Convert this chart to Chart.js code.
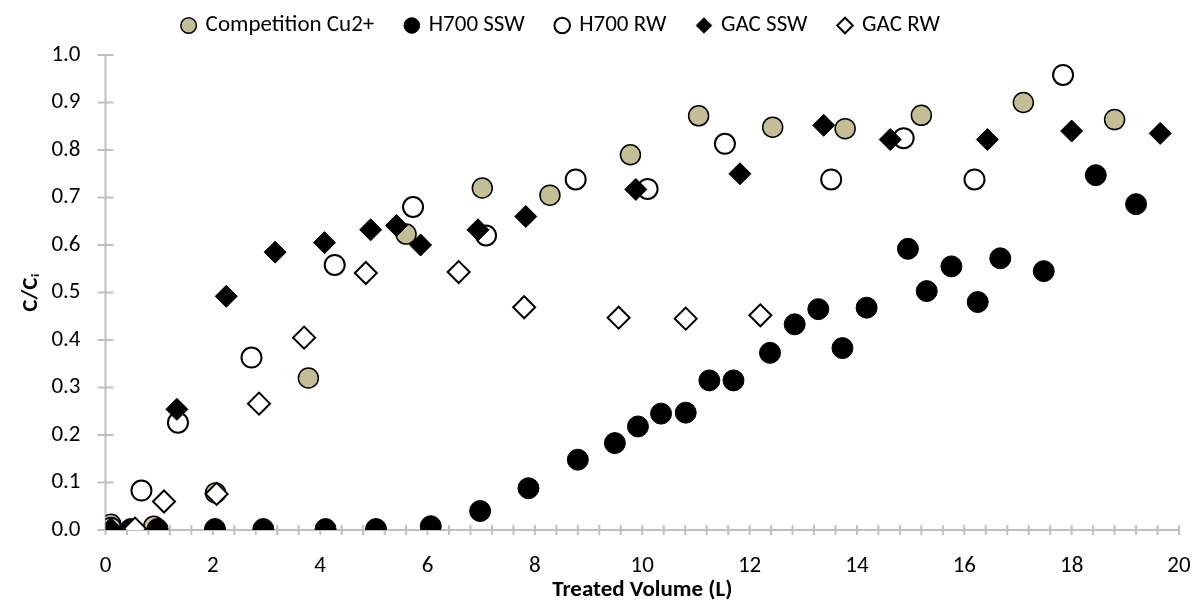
<!DOCTYPE html>
<html>
<head>
<meta charset="utf-8">
<script src="https://cdn.jsdelivr.net/npm/chart.js@4.4.0/dist/chart.umd.min.js"></script>
<style>
  html, body { margin: 0; padding: 0; background: #fff; overflow: hidden; }
  #wrap { width: 1196px; height: 604px; position: relative; }
  #myChart { display: block; }
</style>
</head>
<body>
<div id="wrap"><canvas id="myChart"></canvas></div>
<script>
// values
var compX = [0.1, 0.9, 2.05, 3.78, 5.6, 7.02, 8.28, 9.78, 11.05, 12.43, 13.78, 15.2, 17.1, 18.8];
var compY = [0.012, 0.008, 0.078, 0.32, 0.623, 0.72, 0.705, 0.79, 0.872, 0.848, 0.845, 0.873, 0.9, 0.864];

var h700sswX = [0.08, 0.47, 0.97, 2.04, 2.94, 4.1, 5.04, 6.06, 6.98, 7.88, 8.8, 9.49, 9.92, 10.35, 10.81, 11.25, 11.7, 12.38, 12.84, 13.28, 13.73, 14.18, 14.95, 15.3, 15.76, 16.25, 16.67, 17.48, 18.45, 19.2];
var h700sswY = [0.003, 0.002, 0.002, 0.002, 0.002, 0.002, 0.002, 0.008, 0.04, 0.088, 0.148, 0.183, 0.218, 0.245, 0.247, 0.315, 0.315, 0.373, 0.433, 0.465, 0.383, 0.468, 0.592, 0.503, 0.555, 0.48, 0.572, 0.545, 0.747, 0.686];

var h700rwX = [0.1, 0.67, 1.35, 2.72, 4.27, 5.73, 7.09, 8.76, 10.1, 11.54, 13.52, 14.87, 16.19, 17.84];
var h700rwY = [0.005, 0.083, 0.226, 0.363, 0.558, 0.68, 0.62, 0.738, 0.718, 0.813, 0.738, 0.825, 0.738, 0.958];

var gacsswX = [0.1, 1.33, 2.25, 3.16, 4.08, 4.94, 5.42, 5.87, 6.94, 7.83, 9.88, 11.82, 13.38, 14.62, 16.43, 18.0, 19.65];
var gacsswY = [0.003, 0.254, 0.492, 0.585, 0.605, 0.632, 0.641, 0.6, 0.632, 0.66, 0.717, 0.75, 0.852, 0.822, 0.822, 0.84, 0.835];

var gacrwX = [0.55, 1.09, 2.07, 2.86, 3.7, 4.85, 6.58, 7.8, 9.56, 10.81, 12.2];
var gacrwY = [0.003, 0.06, 0.076, 0.266, 0.405, 0.541, 0.543, 0.469, 0.447, 0.445, 0.452];

var seriesNames = ["Competition Cu2+", "H700 SSW", "H700 RW", "GAC SSW", "GAC RW"];

function pts(xs, ys) {
  return xs.map(function (x, i) { return { x: x, y: ys[i] }; });
}

var fontFam = "Carlito, Calibri, Lato, sans-serif";
var axisGrey = "#BFBFBF";

// excel style axes: grey lines with ticks crossing them
var crossAxes = {
  id: "crossAxes",
  beforeLayout(chart) {
    // a bit more room between legend and plot
    const lg = chart.legend;
    if (lg && !lg._extra) {
      const fit = lg.fit;
      lg.fit = function () { fit.call(this); this.height += 8; };
      lg._extra = true;
    }
  },
  afterLayout(chart) {
    // legend sits a little left of centre in the original
    const lg = chart.legend;
    if (lg) { lg.left -= 28; lg.right -= 28; }
  },
  beforeDatasetsDraw(chart) {
    const ctx = chart.ctx;
    const x = chart.scales.x, y = chart.scales.y;
    const x0 = x.getPixelForValue(x.min), x1 = x.getPixelForValue(x.max);
    const y0 = y.getPixelForValue(y.min), y1 = y.getPixelForValue(y.max);
    ctx.save();
    ctx.strokeStyle = axisGrey;
    ctx.lineWidth = 2;
    ctx.beginPath();
    ctx.moveTo(x0, y1);
    ctx.lineTo(x0, y0);
    ctx.lineTo(x1, y0);
    for (let i = 0; i <= 50; i++) {
      const px = x.getPixelForValue(i * 0.4);
      ctx.moveTo(px, y0 - 5);
      ctx.lineTo(px, y0 + 5);
    }
    for (let j = 0; j <= 10; j++) {
      const py = y.getPixelForValue(j / 10);
      ctx.moveTo(x0 - 8, py);
      ctx.lineTo(x0 + 8, py);
    }
    ctx.stroke();
    ctx.restore();
  }
};

new Chart("myChart", {
  type: "scatter",
  data: {
    datasets: [
      { label: seriesNames[0], data: pts(compX, compY), pointStyle: "circle", pointRadius: 10,
        backgroundColor: "#C4BD97", borderColor: "#000", borderWidth: 1.5, order: 5 },
      { label: seriesNames[1], data: pts(h700sswX, h700sswY), pointStyle: "circle", pointRadius: 10.5,
        backgroundColor: "#000", borderColor: "#000", borderWidth: 1, order: 4 },
      { label: seriesNames[2], data: pts(h700rwX, h700rwY), pointStyle: "circle", pointRadius: 10,
        backgroundColor: "#fff", borderColor: "#000", borderWidth: 2, order: 3 },
      { label: seriesNames[3], data: pts(gacsswX, gacsswY), pointStyle: "rectRot", pointRadius: 11,
        backgroundColor: "#000", borderColor: "#000", borderWidth: 1, order: 2 },
      { label: seriesNames[4], data: pts(gacrwX, gacrwY), pointStyle: "rectRot", pointRadius: 11,
        backgroundColor: "#fff", borderColor: "#000", borderWidth: 2, order: 1 }
    ]
  },
  options: {
    responsive: true,
    maintainAspectRatio: false,
    animation: false,
    layout: { padding: { left: 0, right: 17, top: -18, bottom: 0 } },
    plugins: {
      tooltip: { enabled: false },
      legend: {
        position: "top",
        labels: {
          usePointStyle: true,
          boxWidth: 11,
          boxHeight: 11,
          padding: 32,
          color: "#000",
          font: { family: fontFam, size: 23 },
          sort: function (a, b) { return a.datasetIndex - b.datasetIndex; }
        }
      }
    },
    scales: {
      x: {
        type: "linear",
        min: 0,
        max: 20,
        border: { display: false },
        grid: { display: false, drawTicks: false },
        afterFit: function (s) { s.height = 74; s.paddingLeft = 0; s.paddingRight = 0; },
        ticks: { stepSize: 2, color: "#000", padding: 22, font: { family: fontFam, size: 23 } },
        title: { display: true, text: "Treated Volume (L)", color: "#000", padding: { top: 0, bottom: 0 },
          font: { family: fontFam, size: 23, weight: "bold" } }
      },
      y: {
        min: 0,
        max: 1,
        border: { display: false },
        grid: { display: false, drawTicks: false },
        afterFit: function (s) { s.width = 105.5; s.paddingTop = 0; s.paddingBottom = 0; },
        ticks: { stepSize: 0.1, color: "#000", padding: 25,
          callback: function (v) { return v.toFixed(1); },
          font: { family: fontFam, size: 23 } },
        title: { display: true, text: "C/C\u1D62", color: "#000", padding: { top: 17, bottom: 0 },
          font: { family: fontFam, size: 23, weight: "bold" } }
      }
    }
  },
  plugins: [crossAxes]
});
</script>
</body>
</html>
